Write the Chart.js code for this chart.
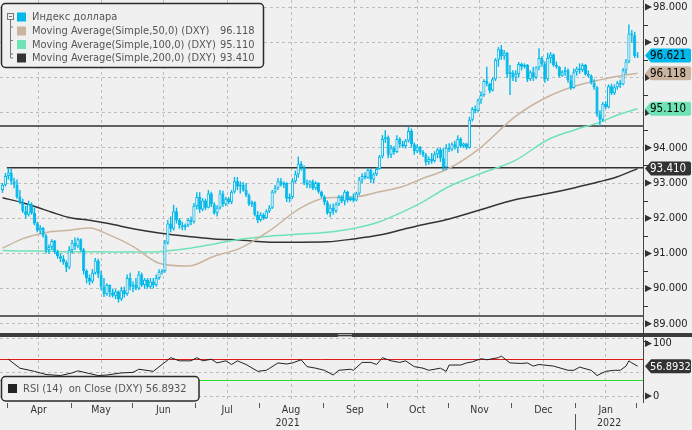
<!DOCTYPE html>
<html>
<head>
<meta charset="utf-8">
<script src="https://cdn.jsdelivr.net/npm/chart.js@4.4.1/dist/chart.umd.min.js"></script>
<style>
  html, body { margin: 0; padding: 0; background: #f0f0f0; }
  #wrap { width: 692px; height: 430px; }
</style>
</head>
<body>
<div id="wrap"><canvas id="dxy" width="692" height="430"></canvas></div>
<script>
// ============================================================
// DXY daily candles + SMA 50/100/200 + RSI(14)
// ============================================================

// 1) Calendar (trading days per month)
const monthNames = ['Mar', 'Apr', 'May', 'Jun', 'Jul', 'Aug', 'Sep', 'Oct', 'Nov', 'Dec', 'Jan', 'Feb'];
const monthDays  = [2, 22, 21, 22, 22, 22, 22, 21, 22, 22, 21, 1];
const yearNames  = ['2021', '2022'];
const yearFirstMonth = [0, 10];

// 2) Candles
const opens = [
  92.80, 92.95, 93.20, 93.30, 93.05, 92.95, 92.60, 92.45, 92.20, 92.10,
  92.40, 92.15, 91.85, 91.65, 91.72, 91.50, 91.10, 91.18, 91.35, 91.05,
  90.92, 90.85, 90.75, 90.60, 91.10, 91.30, 91.20, 91.40, 91.10, 90.50,
  90.30, 90.20, 90.45, 90.80, 90.40, 90.05, 89.85, 90.10, 89.90, 89.80,
  89.92, 89.70, 89.95, 89.85, 90.30, 90.05, 90.12, 90.00, 90.40, 90.10,
  90.25, 90.05, 90.20, 90.10, 90.30, 90.48, 90.50, 91.30, 91.85, 91.70,
  92.20, 91.95, 91.80, 91.75, 91.80, 91.95, 91.90, 92.35, 92.60, 92.25,
  92.50, 92.30, 92.70, 92.40, 92.15, 92.30, 92.70, 92.40, 92.55, 92.45,
  92.75, 93.05, 92.90, 92.95, 92.80, 92.65, 92.40, 92.45, 92.10, 91.95,
  92.10, 92.00, 92.20, 92.30, 92.75, 92.85, 93.05, 92.95, 93.00, 92.55,
  92.60, 93.05, 93.25, 93.55, 93.45, 93.00, 92.95, 93.05, 92.85, 93.00,
  92.75, 92.62, 92.45, 92.15, 92.30, 92.20, 92.40, 92.60, 92.48, 92.75,
  92.52, 92.58, 92.50, 92.70, 93.10, 93.20, 93.15, 93.38, 93.10, 93.25,
  93.40, 93.75, 94.25, 94.30, 93.80, 94.00, 93.88, 94.25, 94.10, 94.05,
  94.20, 94.48, 94.10, 93.90, 94.02, 93.88, 93.80, 93.60, 93.68, 93.62,
  93.82, 93.95, 93.70, 93.45, 94.00, 93.95, 94.10, 94.00, 94.25, 94.05,
  94.12, 94.00, 94.80, 95.10, 95.05, 95.35, 95.50, 95.90, 95.82, 95.62,
  95.95, 96.50, 96.80, 96.60, 96.70, 96.10, 96.15, 96.00, 96.10, 96.38,
  96.30, 96.35, 95.95, 96.15, 96.00, 96.28, 96.55, 96.38, 95.95, 96.55,
  96.65, 96.35, 96.30, 96.05, 96.15, 96.20, 95.92, 95.70, 96.15, 96.25,
  96.20, 96.35, 96.10, 96.05, 95.85, 95.72, 94.95, 94.80, 95.25, 95.15,
  95.75, 95.55, 95.72, 95.85, 95.80, 96.20, 96.45, 97.25, 97.20, 96.60
];
const highs = [
  93.00, 93.28, 93.43, 93.40, 93.15, 93.10, 92.80, 92.55, 92.35, 92.50,
  92.45, 92.30, 91.90, 91.80, 91.75, 91.55, 91.25, 91.40, 91.38, 91.10,
  91.00, 90.95, 90.80, 91.20, 91.38, 91.45, 91.45, 91.42, 91.15, 90.55,
  90.40, 90.55, 90.87, 90.85, 90.50, 90.30, 90.15, 90.12, 90.00, 89.98,
  89.95, 90.05, 90.05, 90.40, 90.45, 90.20, 90.30, 90.50, 90.45, 90.30,
  90.30, 90.30, 90.30, 90.40, 90.55, 90.55, 91.38, 91.95, 92.05, 92.38,
  92.30, 92.00, 91.90, 91.85, 92.00, 92.05, 92.43, 92.74, 92.74, 92.57,
  92.55, 92.80, 92.75, 92.45, 92.37, 92.80, 92.78, 92.60, 92.60, 92.80,
  93.17, 93.17, 93.05, 93.03, 93.00, 92.70, 92.50, 92.48, 92.20, 92.17,
  92.15, 92.25, 92.37, 92.80, 92.94, 93.14, 93.14, 93.05, 93.02, 92.70,
  93.14, 93.35, 93.75, 93.62, 93.50, 93.10, 93.08, 93.10, 93.05, 93.02,
  92.78, 92.65, 92.50, 92.40, 92.42, 92.45, 92.66, 92.65, 92.80, 92.78,
  92.62, 92.70, 92.75, 93.17, 93.28, 93.30, 93.43, 93.40, 93.30, 93.45,
  93.80, 94.36, 94.50, 94.35, 94.08, 94.05, 94.36, 94.30, 94.20, 94.25,
  94.60, 94.55, 94.15, 94.10, 94.05, 93.94, 93.85, 93.75, 93.85, 93.90,
  94.00, 94.00, 94.00, 94.10, 94.13, 94.15, 94.20, 94.36, 94.30, 94.15,
  94.14, 94.88, 95.16, 95.20, 95.40, 95.60, 95.95, 96.30, 95.85, 96.00,
  96.55, 96.86, 96.92, 96.78, 96.72, 96.35, 96.20, 96.20, 96.44, 96.42,
  96.40, 96.38, 96.20, 96.30, 96.32, 96.83, 96.60, 96.45, 96.70, 96.72,
  96.68, 96.45, 96.32, 96.20, 96.30, 96.25, 96.07, 96.25, 96.30, 96.40,
  96.40, 96.38, 96.20, 96.08, 95.95, 95.75, 95.07, 95.30, 95.32, 95.80,
  95.82, 95.80, 95.90, 95.93, 96.27, 96.52, 97.50, 97.35, 97.30, 96.72
];
const lows = [
  92.72, 92.90, 93.10, 92.95, 92.85, 92.55, 92.40, 92.15, 92.00, 92.05,
  92.10, 91.80, 91.60, 91.55, 91.45, 91.00, 91.00, 91.10, 90.98, 90.85,
  90.75, 90.68, 90.47, 90.55, 91.00, 91.10, 91.15, 91.05, 90.40, 90.15,
  90.10, 90.15, 90.40, 90.30, 89.95, 89.76, 89.80, 89.76, 89.75, 89.70,
  89.60, 89.65, 89.75, 89.80, 89.95, 89.90, 89.95, 89.96, 90.05, 90.00,
  90.00, 90.00, 90.00, 90.05, 90.25, 90.40, 90.45, 91.25, 91.60, 91.65,
  91.85, 91.70, 91.66, 91.66, 91.75, 91.80, 91.85, 92.25, 92.15, 92.20,
  92.23, 92.28, 92.32, 92.10, 92.05, 92.25, 92.32, 92.35, 92.40, 92.40,
  92.70, 92.80, 92.70, 92.75, 92.60, 92.35, 92.32, 92.05, 91.86, 91.90,
  91.95, 91.98, 92.15, 92.26, 92.70, 92.80, 92.90, 92.86, 92.46, 92.45,
  92.55, 93.00, 93.15, 93.35, 92.94, 92.86, 92.85, 92.80, 92.80, 92.70,
  92.58, 92.37, 92.10, 92.03, 92.10, 92.15, 92.35, 92.43, 92.37, 92.45,
  92.48, 92.45, 92.48, 92.65, 93.00, 93.10, 93.12, 93.00, 93.00, 93.20,
  93.38, 93.70, 94.14, 93.70, 93.71, 93.80, 93.85, 94.00, 94.00, 93.98,
  94.15, 94.00, 93.80, 93.85, 93.80, 93.74, 93.50, 93.52, 93.55, 93.58,
  93.70, 93.60, 93.35, 93.37, 93.88, 93.90, 93.95, 93.85, 94.00, 94.00,
  93.95, 93.98, 94.75, 94.98, 95.00, 95.25, 95.45, 95.75, 95.55, 95.60,
  95.90, 96.30, 96.50, 96.50, 95.98, 95.50, 95.90, 95.87, 96.00, 96.20,
  96.25, 95.87, 95.90, 95.90, 95.95, 96.20, 96.30, 95.85, 95.90, 96.40,
  96.30, 96.25, 96.00, 96.02, 96.05, 95.85, 95.64, 95.68, 96.05, 96.10,
  96.15, 96.05, 96.00, 95.80, 95.65, 94.88, 94.62, 94.75, 95.10, 95.12,
  95.50, 95.50, 95.65, 95.70, 95.78, 96.10, 96.40, 97.00, 96.55, 96.55
];
const closes = [
  92.95, 93.20, 93.30, 93.05, 92.95, 92.60, 92.45, 92.20, 92.10, 92.40,
  92.15, 91.85, 91.65, 91.72, 91.50, 91.10, 91.18, 91.35, 91.05, 90.92,
  90.85, 90.75, 90.60, 91.10, 91.30, 91.20, 91.40, 91.10, 90.50, 90.30,
  90.20, 90.45, 90.80, 90.40, 90.05, 89.85, 90.10, 89.90, 89.80, 89.92,
  89.70, 89.95, 89.85, 90.30, 90.05, 90.12, 90.00, 90.40, 90.10, 90.25,
  90.05, 90.20, 90.10, 90.30, 90.48, 90.50, 91.30, 91.85, 91.70, 92.20,
  91.95, 91.80, 91.75, 91.80, 91.95, 91.90, 92.35, 92.60, 92.25, 92.50,
  92.30, 92.70, 92.40, 92.15, 92.30, 92.70, 92.40, 92.55, 92.45, 92.75,
  93.05, 92.90, 92.95, 92.80, 92.65, 92.40, 92.45, 92.10, 91.95, 92.10,
  92.00, 92.20, 92.30, 92.75, 92.85, 93.05, 92.95, 93.00, 92.55, 92.60,
  93.05, 93.25, 93.55, 93.45, 93.00, 92.95, 93.05, 92.85, 93.00, 92.75,
  92.62, 92.45, 92.15, 92.30, 92.20, 92.40, 92.60, 92.48, 92.75, 92.52,
  92.58, 92.50, 92.70, 93.10, 93.20, 93.15, 93.38, 93.10, 93.25, 93.40,
  93.75, 94.25, 94.30, 93.80, 94.00, 93.88, 94.25, 94.10, 94.05, 94.20,
  94.48, 94.10, 93.90, 94.02, 93.88, 93.80, 93.60, 93.68, 93.62, 93.82,
  93.95, 93.70, 93.45, 94.00, 93.95, 94.10, 94.00, 94.25, 94.05, 94.12,
  94.00, 94.80, 95.10, 95.05, 95.35, 95.50, 95.90, 95.82, 95.62, 95.95,
  96.50, 96.80, 96.60, 96.70, 96.10, 96.15, 96.00, 96.10, 96.38, 96.30,
  96.35, 95.95, 96.15, 96.00, 96.28, 96.55, 96.38, 95.95, 96.55, 96.65,
  96.35, 96.30, 96.05, 96.15, 96.20, 95.92, 95.70, 96.15, 96.25, 96.20,
  96.35, 96.10, 96.05, 95.85, 95.72, 94.95, 94.80, 95.25, 95.15, 95.75,
  95.55, 95.72, 95.85, 95.80, 96.20, 96.45, 97.25, 97.20, 96.60, 96.62
];

// 3) Moving averages, read at these day indexes
const maDays = [0, 7, 12, 17, 23, 30, 37, 45, 54, 64, 73, 82, 92, 103, 112, 121, 130, 138, 144, 154, 164, 177, 188, 197, 206, 212, 219];
const ma50  = [91.15, 91.42, 91.54, 91.62, 91.66, 91.72, 91.52, 91.20, 90.72, 90.64, 90.92, 91.15, 91.64, 92.30, 92.58, 92.60, 92.75, 92.90, 93.10, 93.42, 93.95, 94.90, 95.45, 95.74, 95.93, 96.03, 96.118];
const ma100 = [91.08, 91.07, 91.07, 91.06, 91.05, 91.05, 91.04, 91.04, 91.05, 91.14, 91.27, 91.40, 91.49, 91.55, 91.60, 91.71, 91.90, 92.18, 92.42, 92.90, 93.24, 93.65, 94.23, 94.50, 94.73, 94.93, 95.110];
const ma200 = [92.58, 92.44, 92.31, 92.17, 92.02, 91.94, 91.84, 91.70, 91.58, 91.48, 91.41, 91.38, 91.32, 91.32, 91.33, 91.41, 91.52, 91.68, 91.80, 91.98, 92.22, 92.53, 92.70, 92.86, 93.04, 93.18, 93.410];

// 4) RSI(14)
const rsiDays = [2, 6, 11, 15, 20, 24, 26, 29, 33, 36, 41, 45, 47, 52, 55, 58, 61, 65, 67, 69, 72, 74, 77, 79, 81, 84, 88, 91, 95, 98, 100, 103, 105, 108, 111, 114, 116, 120, 121, 124, 127, 129, 131, 134, 137, 139, 142, 145, 147, 151, 153, 154, 158, 160, 162, 165, 167, 171, 172, 175, 179, 181, 183, 185, 190, 195, 197, 199, 203, 205, 208, 211, 213, 215, 216, 217, 219];
const rsiVals = [70, 53, 47, 41, 39, 44, 48, 44, 39, 40, 44, 45, 51, 47, 60, 73, 67, 67, 73, 67, 70, 63, 67, 60, 67, 60, 47, 49, 63, 61, 63, 69, 56, 53, 49, 40, 49, 51, 49, 64, 64, 60, 73, 67, 64, 67, 56, 53, 49, 53, 47, 59, 59, 63, 65, 71, 69, 73, 76, 63, 62, 63, 57, 60, 57, 49, 49, 55, 49, 39, 47, 49, 49, 57, 67, 63, 56.89];

// 5) Axes, levels, labels
const priceTicks = [88.5, 89, 89.5, 90, 90.5, 91, 91.5, 92, 92.5, 93, 93.5, 94, 94.5, 95, 95.5, 96, 96.5, 97, 97.5, 98];
const rsiGridVals = [0, 44, 100, 109];
const rsiLabelVals = [0, 100];
const levelValues = [94.62, 93.43, 89.22];
const levelFromDay = [null, 1.5, null];
const rsiBands = [70, 30];
const legendNames = ['Индекс доллара', 'Moving Average(Simple,50,0) (DXY)', 'Moving Average(Simple,100,0) (DXY)', 'Moving Average(Simple,200,0) (DXY)'];
const legendValues = ['', '96.118', '95.110', '93.410'];
const tagValues = ['96.621', '96.118', '95.110', '93.410'];
const rsiName = 'RSI (14)  on Close (DXY) 56.8932';
const rsiLast = '56.8932';

// ---- look ----
const FAMILY = "'DejaVu Sans Condensed', 'DejaVu Sans', sans-serif";
const BG = '#f0f0f0';
const CYAN = '#00b8ea', TAN = '#c9b59f', GREEN = '#6fe3b6', DARK = '#333333';
const GRID = '#bdbdbd';
const seriesColors = [CYAN, TAN, GREEN, DARK];
const tagText = ['#000', '#000', '#000', '#fff'];

const monthStart = [];
let acc = 0;
monthDays.forEach(d => { monthStart.push(acc); acc += d; });

const wickData = highs.map((h, i) => ({ x: i, y: [lows[i], h] }));
const bodyData = opens.map((o, i) => ({ x: i, y: [o, closes[i]] }));
const bodyFill = opens.map((o, i) => closes[i] >= o ? BG : CYAN);
const maPoints = arr => maDays.map((d, k) => ({ x: d, y: arr[k] }));

function tag(ctx, left, py, text, fill, color) {
  ctx.beginPath();
  ctx.moveTo(left + 2, py);
  ctx.lineTo(left + 8, py - 7);
  ctx.lineTo(left + 46, py - 7);
  ctx.quadraticCurveTo(left + 48, py - 7, left + 48, py - 5);
  ctx.lineTo(left + 48, py + 5);
  ctx.quadraticCurveTo(left + 48, py + 7, left + 46, py + 7);
  ctx.lineTo(left + 8, py + 7);
  ctx.closePath();
  ctx.fillStyle = fill;
  ctx.fill();
  ctx.fillStyle = color;
  ctx.textAlign = 'left';
  ctx.textBaseline = 'middle';
  ctx.fillText(text, left + 7, py + 0.5);
}

function box(ctx, x, y, w, h) {
  ctx.beginPath();
  ctx.roundRect(x, y, w, h, 4);
  ctx.fillStyle = BG;
  ctx.fill();
  ctx.lineWidth = 1.5;
  ctx.strokeStyle = '#2a2a2a';
  ctx.stroke();
}

const decor = {
  id: 'decor',
  beforeDraw(chart) {
    const c = chart.ctx;
    c.save();
    c.fillStyle = BG;
    c.fillRect(0, 0, chart.width, chart.height);
    c.restore();
  },
  beforeDatasetsDraw(chart) {
    const { ctx, chartArea: a, scales: { x, y, yr } } = chart;
    ctx.save();
    ctx.strokeStyle = DARK;
    ctx.lineWidth = 1.5;
    levelValues.forEach((v, k) => {
      const py = y.getPixelForValue(v);
      const x0 = levelFromDay[k] == null ? a.left : x.getPixelForValue(levelFromDay[k]);
      ctx.beginPath(); ctx.moveTo(x0, py); ctx.lineTo(a.right, py); ctx.stroke();
    });
    ctx.lineWidth = 1;
    ['#e01818', '#28e028'].forEach((col, k) => {
      const py = Math.round(yr.getPixelForValue(rsiBands[k])) + 0.5;
      ctx.strokeStyle = col;
      ctx.beginPath(); ctx.moveTo(a.left, py); ctx.lineTo(a.right, py); ctx.stroke();
    });
    ctx.restore();
  },
  afterDraw(chart) {
    const { ctx, chartArea: a, scales: { x, y, yr } } = chart;
    ctx.save();

    // pane separator
    const sepY = y.bottom - 2;
    ctx.fillStyle = '#3c3c3c';
    ctx.fillRect(0, sepY, chart.width, 4);
    ctx.fillStyle = '#a8a8a8';
    ctx.fillRect(338, sepY + 1, 14, 1);
    ctx.fillRect(338, sepY + 3, 14, 1);

    // axis arrows / minor ticks
    ctx.fillStyle = DARK;
    const arrow = py => {
      ctx.beginPath();
      ctx.moveTo(a.right + 2, py - 3.5); ctx.lineTo(a.right + 9, py); ctx.lineTo(a.right + 2, py + 3.5);
      ctx.closePath(); ctx.fill();
    };
    priceTicks.forEach(v => {
      const py = y.getPixelForValue(v);
      if (Number.isInteger(v)) arrow(py);
      else ctx.fillRect(a.right, Math.round(py), 5, 1);
    });
    rsiLabelVals.forEach(v => arrow(yr.getPixelForValue(v)));

    // month labels, ticks and years
    ctx.font = `10.5px ${FAMILY}`;
    ctx.textAlign = 'center';
    ctx.textBaseline = 'middle';
    ctx.fillStyle = '#333';
    ctx.strokeStyle = '#555';
    ctx.lineWidth = 1;
    monthDays.forEach((d, k) => {
      const x0 = x.getPixelForValue(monthStart[k] - 0.5);
      const x1 = x.getPixelForValue(monthStart[k] + d - 0.5);
      if (k > 0) {
        const tx = Math.round(x0) + 0.5;
        ctx.beginPath(); ctx.moveTo(tx, a.bottom + 1); ctx.lineTo(tx, a.bottom + 6); ctx.stroke();
      }
      if (d > 5) ctx.fillText(monthNames[k], (x0 + x1) / 2, a.bottom + 8);
    });
    const yb = x.getPixelForValue(monthStart[yearFirstMonth[1]] - 0.5);
    ctx.fillText(yearNames[0], (a.left + yb) / 2, a.bottom + 21);
    ctx.fillText(yearNames[1], (yb + a.right) / 2, a.bottom + 21);
    ctx.beginPath();
    ctx.moveTo(Math.round(yb) + 0.5, a.bottom + 12); ctx.lineTo(Math.round(yb) + 0.5, chart.height);
    ctx.stroke();

    // last-value tags
    ctx.font = `11.5px ${FAMILY}`;
    tagValues.forEach((t, k) => tag(ctx, a.right, y.getPixelForValue(parseFloat(t)), t, seriesColors[k], tagText[k]));
    ctx.font = `11px ${FAMILY}`;
    tag(ctx, a.right, yr.getPixelForValue(parseFloat(rsiLast)), rsiLast, DARK, '#fff');

    // price legend
    box(ctx, 1.5, 3.5, 262, 64);
    const rows = [17, 31, 44.5, 58];
    ctx.strokeStyle = '#777';
    ctx.lineWidth = 1;
    ctx.strokeRect(7.5, 13.5, 6, 6);
    ctx.beginPath();
    ctx.moveTo(9, 16.5); ctx.lineTo(12, 16.5);
    ctx.moveTo(10.5, 20); ctx.lineTo(10.5, rows[3]);
    rows.slice(1).forEach(r => { ctx.moveTo(10.5, r - 4); ctx.lineTo(13, r - 4); });
    ctx.moveTo(10.5, rows[3]); ctx.lineTo(13, rows[3]);
    ctx.stroke();
    ctx.font = `11px ${FAMILY}`;
    ctx.textAlign = 'left';
    ctx.textBaseline = 'middle';
    legendNames.forEach((n, k) => {
      ctx.fillStyle = seriesColors[k];
      ctx.fillRect(17, rows[k] - 4.5, 9, 9);
      ctx.fillStyle = '#555';
      ctx.fillText(n, 32, rows[k] + 0.5);
      if (legendValues[k]) ctx.fillText(legendValues[k], 220, rows[k] + 0.5);
    });

    // rsi legend
    box(ctx, 1.5, 376.5, 197.5, 24.5);
    ctx.fillStyle = '#222';
    ctx.fillRect(8, 384, 9, 9);
    ctx.fillStyle = '#555';
    ctx.fillText(rsiName, 23, 389);

    ctx.restore();
  }
};

const noPad = s => { s.paddingTop = 0; s.paddingBottom = 0; s.paddingLeft = 0; s.paddingRight = 0; };

new Chart(document.getElementById('dxy'), {
  type: 'bar',
  data: {
    datasets: [
      { type: 'bar', data: bodyData, yAxisID: 'y', backgroundColor: bodyFill, borderColor: CYAN,
        borderWidth: 1, borderSkipped: false, barThickness: 3.2, grouped: false, inflateAmount: 0, order: 0 },
      { type: 'bar', data: wickData, yAxisID: 'y', backgroundColor: CYAN, borderWidth: 0,
        barThickness: 1.4, grouped: false, inflateAmount: 0, order: 1 },
      { type: 'line', data: maPoints(ma50), yAxisID: 'y', borderColor: TAN, borderWidth: 1.5,
        pointRadius: 0, cubicInterpolationMode: 'monotone', order: 2 },
      { type: 'line', data: maPoints(ma100), yAxisID: 'y', borderColor: GREEN, borderWidth: 1.5,
        pointRadius: 0, cubicInterpolationMode: 'monotone', order: 3 },
      { type: 'line', data: maPoints(ma200), yAxisID: 'y', borderColor: DARK, borderWidth: 1.5,
        pointRadius: 0, cubicInterpolationMode: 'monotone', order: 4 },
      { type: 'line', data: rsiDays.map((d, k) => ({ x: d, y: rsiVals[k] })), yAxisID: 'yr',
        borderColor: '#222', borderWidth: 1, pointRadius: 0, tension: 0, order: 5 }
    ]
  },
  options: {
    responsive: false,
    animation: false,
    layout: { padding: 0, autoPadding: false },
    plugins: { legend: { display: false }, tooltip: { enabled: false } },
    scales: {
      x: {
        type: 'linear', position: 'bottom', min: -0.862, max: 220.862, offset: false,
        afterBuildTicks: s => { s.ticks = monthStart.slice(1).map(v => ({ value: v - 0.5 })); },
        afterFit: s => { s.height = 28; noPad(s); },
        grid: { color: GRID, drawTicks: false },
        border: { display: false, dash: [3, 3] },
        ticks: { display: false }
      },
      yr: {
        type: 'linear', position: 'right', stack: 'panes', stackWeight: 67, weight: 2,
        min: -11.4, max: 116.2,
        afterBuildTicks: s => { s.ticks = rsiGridVals.map(v => ({ value: v })); },
        afterFit: s => { s.width = 49; noPad(s); },
        grid: { color: c => c.tick && c.tick.value === 100 ? 'rgba(0,0,0,0)' : GRID, drawTicks: false },
        border: { display: true, color: '#444', dash: [3, 3] },
        ticks: { autoSkip: false, padding: 10, color: '#222', font: { family: FAMILY, size: 11 },
          callback: v => rsiLabelVals.includes(v) ? String(v) : '' }
      },
      y: {
        type: 'linear', position: 'right', stack: 'panes', stackWeight: 335, weight: 1,
        min: 88.682, max: 98.199,
        afterBuildTicks: s => { s.ticks = priceTicks.map(v => ({ value: v })); },
        afterFit: s => { s.width = 49; noPad(s); },
        grid: { color: c => c.tick && Number.isInteger(c.tick.value) ? GRID : 'rgba(0,0,0,0)', drawTicks: false },
        border: { display: true, color: '#444', dash: [3, 3] },
        ticks: { autoSkip: false, padding: 10, color: '#222', font: { family: FAMILY, size: 11 },
          callback: v => Number.isInteger(v) ? v.toFixed(3) : '' }
      }
    }
  },
  plugins: [decor]
});
</script>
</body>
</html>
